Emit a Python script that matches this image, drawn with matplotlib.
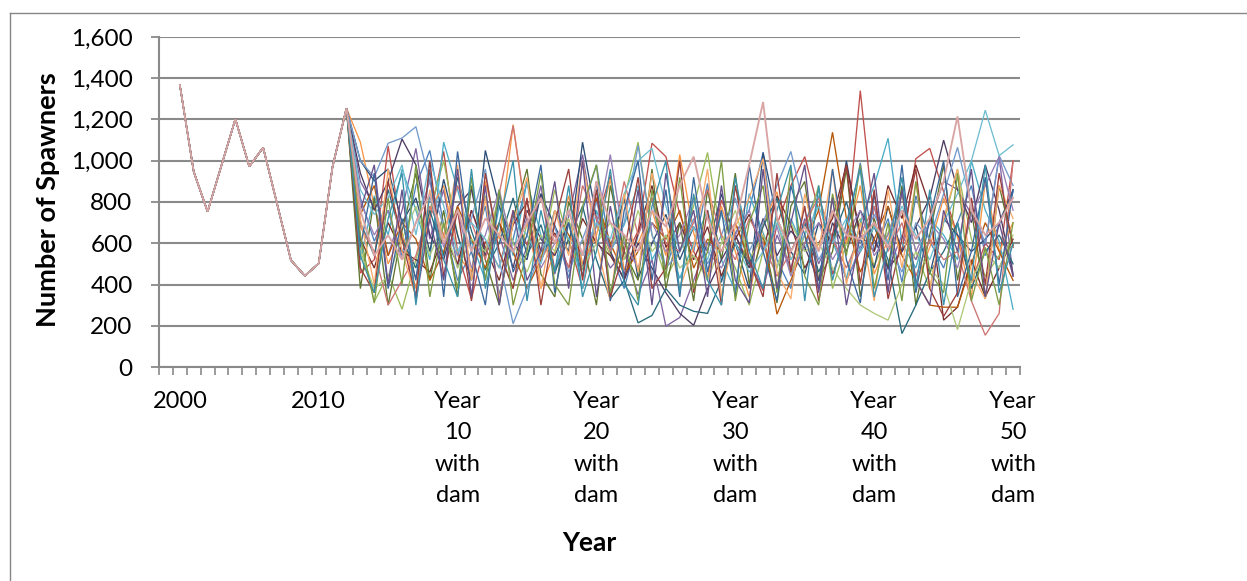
import matplotlib
matplotlib.use("Agg")
import matplotlib.pyplot as plt
from matplotlib.lines import Line2D

# ---------------- data ----------------
categories = [str(y) for y in range(1999, 2011)] + [f"Year {k} with dam" for k in range(1, 51)]

# shared historical values (categories 2000 .. "Year 2 with dam")
history = [1368, 947, 753, 978, 1202, 972, 1064, 792, 518, 442, 502, 972, 1255]

# simulated spawners, categories "Year 3 with dam" .. "Year 50 with dam"
sim_01 = [820, 610, 760, 540, 880, 1050, 690, 420, 560, 780, 350, 620,
          900, 510, 690, 430, 760, 980, 560, 380, 640, 820, 470, 700,
          560, 890, 410, 650, 760, 1040, 520, 380, 700, 860, 450, 640,
          990, 560, 720, 410, 830, 610, 480, 700, 880, 540, 690, 850]
sim_02 = [455, 520, 1072, 640, 430, 720, 1045, 560, 330, 610, 480, 760,
          590, 840, 470, 620, 380, 700, 930, 520, 660, 1085, 1020, 740,
          560, 430, 810, 640, 500, 370, 690, 880, 1020, 760, 450, 620,
          1340, 700, 480, 560, 1010, 1060, 850, 640, 410, 600, 520, 1000]
sim_03 = [600, 316, 450, 280, 520, 760, 1000, 640, 420, 830, 560, 380,
          700, 520, 860, 600, 470, 690, 540, 820, 1090, 640, 430, 560,
          780, 1040, 620, 480, 300, 560, 720, 450, 640, 880, 380, 600,
          720, 490, 650, 830, 560, 380, 700, 960, 620, 440, 540, 590]
sim_04 = [900, 780, 540, 760, 1060, 620, 860, 480, 760, 560, 640, 420,
          580, 880, 450, 730, 1030, 620, 480, 560, 350, 520, 198, 240,
          420, 600, 560, 700, 510, 380, 640, 480, 720, 500, 650, 420,
          560, 780, 470, 640, 520, 700, 900, 860, 740, 590, 1020, 440]
sim_05 = [520, 830, 640, 960, 760, 520, 1090, 860, 610, 420, 780, 540,
          900, 640, 470, 700, 380, 760, 560, 690, 880, 520, 640, 430,
          600, 760, 520, 370, 840, 650, 480, 720, 560, 830, 610, 430,
          700, 880, 1109, 600, 480, 720, 640, 520, 1000, 760, 610, 280]
sim_06 = [1090, 780, 500, 650, 380, 760, 880, 540, 460, 900, 620, 1175,
          700, 380, 560, 830, 500, 640, 910, 470, 600, 760, 540, 1030,
          650, 420, 780, 560, 340, 690, 850, 520, 640, 420, 760, 600,
          880, 450, 620, 760, 400, 580, 820, 630, 340, 900, 560, 700]
sim_07 = [1000, 902, 960, 700, 820, 560, 910, 640, 420, 1050, 780, 600,
          520, 840, 680, 560, 1090, 720, 580, 820, 430, 600, 740, 520,
          680, 560, 840, 600, 380, 1040, 720, 560, 450, 700, 600, 1000,
          620, 480, 780, 560, 680, 450, 720, 640, 560, 620, 700, 860]
sim_08 = [620, 480, 700, 560, 520, 460, 640, 500, 760, 580, 420, 690,
          800, 560, 650, 480, 720, 600, 540, 430, 650, 880, 580, 700,
          520, 680, 440, 620, 740, 560, 830, 690, 480, 600, 720, 980,
          640, 560, 880, 720, 980, 780, 227, 290, 520, 340, 480, 620]
sim_09 = [380, 820, 300, 660, 940, 420, 760, 340, 880, 520, 300, 720,
          960, 450, 340, 800, 620, 300, 880, 560, 420, 960, 380, 700,
          320, 860, 520, 940, 400, 640, 310, 780, 900, 420, 560, 960,
          340, 720, 480, 880, 300, 640, 980, 420, 760, 330, 880, 590]
sim_10 = [940, 760, 900, 1105, 980, 640, 520, 780, 860, 540, 700, 480,
          760, 620, 540, 700, 480, 820, 560, 420, 600, 480, 360, 260,
          202, 380, 520, 640, 480, 720, 540, 660, 580, 420, 700, 560,
          760, 620, 480, 560, 680, 820, 1100, 860, 700, 980, 760, 450]
sim_11 = [700, 540, 860, 620, 480, 760, 540, 920, 660, 470, 600, 820,
          540, 690, 460, 620, 780, 520, 330, 420, 214, 250, 380, 300,
          270, 260, 420, 600, 500, 680, 820, 560, 700, 460, 620, 800,
          560, 680, 520, 162, 300, 460, 560, 700, 380, 560, 640, 500]
sim_12 = [740, 880, 540, 700, 620, 420, 560, 780, 620, 480, 700, 560,
          380, 520, 760, 640, 540, 820, 600, 450, 560, 700, 620, 760,
          480, 620, 560, 700, 520, 640, 256, 420, 600, 760, 1138, 720,
          460, 620, 780, 540, 420, 300, 290, 290, 500, 700, 560, 420]
sim_13 = [1000, 920, 1085, 1110, 1165, 900, 680, 540, 720, 960, 520, 210,
          380, 560, 680, 460, 620, 800, 560, 700, 1075, 640, 480, 560,
          720, 500, 640, 820, 560, 700, 880, 1045, 760, 520, 640, 420,
          580, 740, 600, 460, 700, 620, 840, 1065, 780, 600, 1025, 880]
sim_14 = [680, 560, 300, 420, 540, 780, 640, 880, 700, 520, 840, 1170,
          720, 520, 640, 480, 880, 720, 560, 900, 640, 820, 600, 560,
          700, 860, 640, 520, 720, 600, 440, 560, 700, 820, 620, 480,
          640, 780, 560, 700, 440, 620, 520, 560, 320, 154, 260, 1000]
sim_15 = [560, 380, 440, 620, 780, 540, 700, 480, 620, 560, 840, 600,
          460, 640, 560, 720, 480, 600, 700, 520, 760, 560, 640, 480,
          540, 420, 600, 760, 520, 640, 480, 700, 560, 600, 480, 380,
          300, 260, 227, 400, 560, 480, 400, 181, 420, 560, 480, 640]
sim_16 = [800, 640, 760, 520, 700, 900, 580, 760, 480, 640, 860, 560,
          720, 480, 600, 760, 540, 680, 1030, 600, 480, 700, 560, 640,
          820, 560, 480, 640, 760, 560, 680, 440, 600, 700, 520, 640,
          760, 540, 640, 840, 560, 700, 620, 480, 740, 880, 1020, 760]
sim_17 = [860, 740, 820, 980, 640, 1000, 780, 560, 700, 620, 480, 720,
          640, 500, 760, 620, 540, 700, 620, 840, 1000, 1060, 780, 560,
          680, 520, 740, 600, 460, 560, 700, 520, 640, 780, 600, 720,
          560, 680, 600, 780, 640, 520, 700, 840, 1000, 1245, 1025, 1077]
sim_18 = [720, 400, 960, 560, 340, 860, 620, 980, 420, 820, 330, 700,
          920, 380, 760, 540, 1000, 600, 320, 840, 460, 940, 700, 380,
          580, 960, 340, 680, 820, 1010, 460, 330, 840, 560, 960, 400,
          700, 320, 860, 480, 900, 380, 720, 960, 460, 330, 880, 720]
sim_19 = [580, 940, 380, 720, 420, 960, 340, 1045, 560, 300, 840, 460,
          640, 980, 360, 700, 440, 900, 320, 760, 1000, 420, 860, 340,
          920, 460, 760, 340, 980, 560, 320, 880, 640, 380, 960, 520,
          310, 840, 420, 980, 360, 720, 1000, 340, 560, 920, 400, 860]
sim_20 = [480, 360, 900, 620, 340, 1000, 440, 760, 320, 940, 560, 380,
          820, 300, 700, 960, 420, 860, 340, 560, 920, 380, 480, 1000,
          360, 760, 300, 880, 520, 340, 940, 460, 780, 320, 640, 980,
          400, 860, 330, 620, 960, 380, 245, 360, 820, 400, 940, 580]
sim_21 = [640, 310, 820, 400, 980, 340, 700, 380, 920, 420, 860, 300,
          560, 940, 400, 300, 780, 980, 360, 640, 320, 860, 440, 920,
          380, 560, 1000, 320, 700, 880, 360, 960, 440, 300, 840, 540,
          980, 380, 700, 320, 900, 460, 360, 940, 320, 580, 300, 700]
sim_22 = [760, 980, 400, 860, 320, 720, 420, 960, 340, 880, 300, 760,
          420, 560, 900, 380, 1000, 340, 780, 440, 860, 300, 940, 560,
          760, 340, 880, 420, 310, 960, 380, 700, 980, 360, 820, 300,
          640, 940, 360, 860, 420, 300, 760, 560, 960, 340, 700, 440]
sim_23 = [540, 360, 720, 940, 300, 840, 520, 340, 960, 380, 700, 1000,
          320, 760, 460, 880, 340, 560, 960, 400, 300, 780, 1000, 360,
          840, 420, 300, 920, 560, 380, 760, 980, 320, 880, 420, 700,
          960, 340, 580, 920, 380, 860, 300, 700, 420, 980, 360, 600]
sim_24 = [760, 540, 640, 520, 700, 840, 600, 760, 560, 720, 640, 560,
          700, 820, 600, 760, 540, 900, 700, 640, 560, 760, 680, 880,
          1020, 720, 560, 700, 980, 1285, 720, 560, 680, 560, 760, 640,
          620, 700, 580, 760, 620, 720, 900, 1215, 760, 640, 700, 820]

simulations = [sim_01, sim_02, sim_03, sim_04, sim_05, sim_06, sim_07, sim_08,
               sim_09, sim_10, sim_11, sim_12, sim_13, sim_14, sim_15, sim_16,
               sim_17, sim_18, sim_19, sim_20, sim_21, sim_22, sim_23, sim_24]

colors = ["#4F81BD", "#C0504D", "#9BBB59", "#8064A2", "#4BACC6", "#F79646",
          "#2C4D75", "#772C2A", "#5F7530", "#4D3B62", "#276A7C", "#B65708",
          "#729ACA", "#CD7371", "#AFC97A", "#977FB7", "#6FBDD1", "#F9AB6B",
          "#3A679C", "#9C3E3B", "#7D9C42", "#67508A", "#3991AA", "#D9A5A4"]

label_every = 10
label_start = 1

# ---------------- figure ----------------
W, H = 1247, 581
fig = plt.figure(figsize=(W / 100, H / 100), dpi=100)
FONT = ["Lato", "DejaVu Sans"]
plt.rcParams["font.family"] = FONT

# outer chart border (left & top visible)
fig.add_artist(Line2D([10 / W, 10 / W], [0, 1 - 13 / H], transform=fig.transFigure,
                      color="#868686", lw=1.0))
fig.add_artist(Line2D([10 / W, 1], [1 - 13 / H, 1 - 13 / H], transform=fig.transFigure,
                      color="#868686", lw=1.0))

left, right, top, bottom = 159, 1020, 37, 367
ax = fig.add_axes([left / W, 1 - bottom / H, (right - left) / W, (bottom - top) / H])

n_cat = len(categories)
for k, (sim, col) in enumerate(zip(simulations, colors)):
    ys = history + sim
    xs = list(range(1, 1 + len(ys)))
    lw = 1.35 if k == len(simulations) - 1 else 0.95
    ax.plot(xs, ys, color=col, lw=lw, solid_joinstyle="miter")

ax.set_xlim(-0.5, n_cat - 0.5)
ax.set_ylim(0, 1600)

grid_col = "#8A8A8A"
ax.set_yticks(range(0, 1601, 200))
ax.set_yticklabels([f"{v:,}" for v in range(0, 1601, 200)], fontsize=17.5)
ax.yaxis.grid(True, color=grid_col, lw=1.5)
ax.set_axisbelow(True)
ax.tick_params(axis="y", length=6, width=1.3, color=grid_col, pad=13)

major = list(range(label_start, n_cat, label_every))
ax.set_xticks(major)
ax.set_xticklabels([categories[i].replace(" ", "\n") for i in major], fontsize=17,
                   linespacing=1.62, va="top")
ax.tick_params(axis="x", which="major", length=0, pad=17)
ax.set_xticks([i - 0.5 for i in range(n_cat + 1)], minor=True)
ax.tick_params(axis="x", which="minor", length=6, width=1.2, color=grid_col, direction="out")

for s in ["top", "right"]:
    ax.spines[s].set_visible(False)
for s in ["left", "bottom"]:
    ax.spines[s].set_color(grid_col)
    ax.spines[s].set_linewidth(1.5)

fig.text(48 / W, 1 - 200 / H, "Number of Spawners", rotation=90, ha="center", va="center",
         fontsize=19.5, fontweight="bold")
fig.text((left + right) / 2 / W, 1 - 543 / H, "Year", ha="center", va="center",
         fontsize=19, fontweight="bold")

fig.savefig("out.png", dpi=100)
